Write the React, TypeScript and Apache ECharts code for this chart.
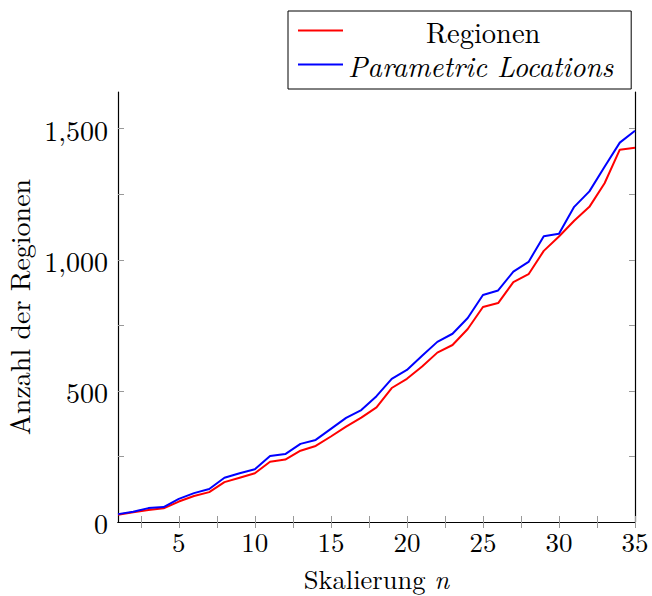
import React, { useEffect, useRef } from "react";
import * as echarts from "echarts";

const nValues = [1,2,3,4,5,6,7,8,9,10,11,12,13,14,15,16,17,18,19,20,21,22,23,24,25,26,27,28,29,30,31,32,33,34,35];
const regionen = [28,37,46,52,78,99,114,152,169,186,230,238,272,290,326,364,398,437,511,546,593,646,675,736,820,835,915,945,1034,1089,1149,1202,1292,1420,1427];
const parametric = [30,39,53,57,88,110,126,169,186,201,252,259,298,313,355,397,427,480,546,580,634,687,718,778,866,883,955,992,1090,1099,1202,1261,1355,1447,1492];
const xLabelValues = [5,10,15,20,25,30,35];
const xTickValues = [2.5,5,7.5,10,12.5,15,17.5,20,22.5,25,27.5,30,32.5,35];
const yLabelValues = [0,500,1000,1500];
const yTickValues = [250,500,750,1000,1250,1500];

const FONT = "'Latin Modern Roman', 'Liberation Serif', serif";
const FS = 28;
const FS_SMALL = 26.5;
const FS_LEGEND = 28.5;

export default function App() {
  const ref = useRef<HTMLDivElement>(null);
  useEffect(() => {
    if (!ref.current) return;
    const chart = echarts.init(ref.current, undefined, { renderer: "svg" });
    const tick = { show: true, inside: true, length: 6, lineStyle: { color: "#999", width: 1 } };
    const axisLine = { show: true, lineStyle: { color: "#000", width: 1.2 } };
    const labelStyle = { fontFamily: FONT, fontSize: FS, color: "#000" };
    chart.setOption({
      animation: false,
      backgroundColor: "#fff",
      grid: { left: 118, right: 17, top: 92, bottom: 74, containLabel: false, outerBoundsMode: "none" },
      legend: {
        left: 288,
        top: 11,
        orient: "vertical",
        borderColor: "#000",
        borderWidth: 1,
        borderRadius: 0,
        padding: [3, 18, 8, 10],
        itemGap: 1,
        itemWidth: 45,
        itemHeight: 2,
        icon: "rect",
        data: [
          { name: "Regionen", textStyle: { padding: [0, 0, 0, 78] } },
          { name: "Parametric Locations", textStyle: { fontStyle: "italic" } },
        ],
        textStyle: {
          fontFamily: FONT,
          fontSize: FS_LEGEND,
          lineHeight: 33,
          color: "#000",
        },
      },
      xAxis: [
        {
          type: "value",
          min: 1,
          max: 35,
          position: "bottom",
          axisLine,
          axisTick: { ...tick, customValues: xTickValues },
          axisLabel: { ...labelStyle, fontSize: 27, margin: 5, customValues: xLabelValues },
          splitLine: { show: false },
          name: "Skalierung {i|n}",
          nameLocation: "middle",
          nameGap: 42,
          nameTextStyle: {
            fontFamily: FONT,
            fontSize: FS_SMALL,
            color: "#000",
            rich: { i: { fontFamily: FONT, fontSize: FS_SMALL, fontStyle: "italic", color: "#000" } },
          },
        },
        {
          type: "value",
          min: 1,
          max: 35,
          position: "top",
          axisLine,
          axisTick: { ...tick, customValues: xTickValues },
          axisLabel: { show: false },
          splitLine: { show: false },
        },
      ],
      yAxis: [
        {
          type: "value",
          min: 0,
          max: 1640,
          position: "left",
          axisLine,
          axisTick: { ...tick, customValues: yTickValues },
          axisLabel: {
            ...labelStyle,
            margin: 10,
            customValues: yLabelValues,
            formatter: (v: number) => v.toLocaleString("en-US"),
          },
          splitLine: { show: false },
          name: "Anzahl der Regionen",
          nameLocation: "middle",
          nameGap: 80,
          nameTextStyle: { ...labelStyle, lineHeight: 30 },
        },
        {
          type: "value",
          min: 0,
          max: 1640,
          position: "right",
          axisLine,
          axisTick: { ...tick, customValues: yTickValues },
          axisLabel: { show: false },
          splitLine: { show: false },
        },
      ],
      series: [
        {
          name: "Regionen",
          type: "line",
          data: nValues.map((n, i) => [n, regionen[i]]),
          showSymbol: false,
          symbol: "none",
          lineStyle: { color: "#ff0000", width: 2 },
          itemStyle: { color: "#ff0000" },
          z: 3,
        },
        {
          name: "Parametric Locations",
          type: "line",
          data: nValues.map((n, i) => [n, parametric[i]]),
          showSymbol: false,
          symbol: "none",
          lineStyle: { color: "#0000ff", width: 2 },
          itemStyle: { color: "#0000ff" },
          z: 4,
        },
      ],
    });
    return () => chart.dispose();
  }, []);
  return <div ref={ref} style={{ position: "fixed", left: 0, top: 0, width: 652, height: 596 }} />;
}
